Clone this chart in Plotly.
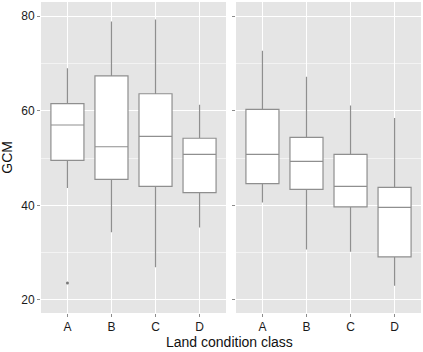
import plotly.graph_objects as go

categories = ["A", "B", "C", "D"]

# Left panel
left_low = [43.7, 34.3, 26.9, 35.3]
left_q1 = [49.5, 45.5, 44.0, 42.7]
left_med = [57.0, 52.4, 54.6, 50.8]
left_q3 = [61.5, 67.4, 63.6, 54.2]
left_high = [69.0, 78.9, 79.3, 61.3]
left_outlier_x = ["A"]
left_outlier_y = [23.6]

# Right panel
right_low = [40.6, 30.7, 30.2, 23.0]
right_q1 = [44.6, 43.4, 39.7, 29.1]
right_med = [50.8, 49.3, 44.0, 39.6]
right_q3 = [60.3, 54.4, 50.8, 43.8]
right_high = [72.7, 67.2, 61.1, 58.5]

y_ticks = [20, 40, 60, 80]

BOX_LINE = "#8f8f8f"
BG = "#e5e5e5"
FONT = "Liberation Sans, Arial, Helvetica, sans-serif"

fig = go.Figure()

def add_box(xaxis, yaxis, low, q1, med, q3, high):
    fig.add_trace(go.Box(
        x=categories, q1=q1, median=med, q3=q3,
        lowerfence=low, upperfence=high,
        boxpoints=False, width=0.75, whiskerwidth=0,
        fillcolor="white", line=dict(color=BOX_LINE, width=1.2),
        xaxis=xaxis, yaxis=yaxis, showlegend=False, hoverinfo="skip",
    ))

add_box("x", "y", left_low, left_q1, left_med, left_q3, left_high)
add_box("x2", "y2", right_low, right_q1, right_med, right_q3, right_high)

fig.add_trace(go.Scatter(
    x=left_outlier_x, y=left_outlier_y, mode="markers",
    marker=dict(color="#7a7a7a", size=3), xaxis="x", yaxis="y",
    showlegend=False, hoverinfo="skip",
))

yrange = [17.25, 83.0]
xcommon = dict(
    type="category", categoryorder="array", categoryarray=categories,
    range=[-0.6, 3.6], showgrid=True, gridcolor="white", gridwidth=1.1,
    zeroline=False, ticks="outside", ticklen=3, tickcolor="#8c8c8c",
    tickfont=dict(family=FONT, size=12, color="#1a1a1a"),
    showline=False, fixedrange=True,
)
ycommon = dict(
    range=yrange, tickvals=y_ticks, showgrid=True, gridcolor="white",
    gridwidth=1.1, zeroline=False, ticks="outside", ticklen=3,
    tickcolor="#8c8c8c",
    minor=dict(tickvals=[30, 50, 70], showgrid=True, gridcolor="#f3f3f3", gridwidth=0.6, ticks=""),
    tickfont=dict(family=FONT, size=12, color="#1a1a1a"),
    showline=False, fixedrange=True,
)

fig.update_layout(
    width=423, height=352,
    margin=dict(l=41, r=2, t=2, b=39),
    paper_bgcolor="white", plot_bgcolor=BG,
    xaxis=dict(domain=[0, 0.4868], anchor="y", **xcommon),
    xaxis2=dict(domain=[0.5132, 1], anchor="y2", **xcommon),
    yaxis=dict(anchor="x", **ycommon),
    yaxis2=dict(anchor="x2", showticklabels=False, **ycommon),
    annotations=[
        dict(text="Land condition class", xref="paper", yref="paper", x=0.497, y=-0.092,
             xanchor="center", yanchor="middle", showarrow=False,
             font=dict(family=FONT, size=14, color="#111")),
        dict(text="GCM", xref="paper", yref="paper", x=-0.09, y=0.502,
             xanchor="center", yanchor="middle", textangle=-90, showarrow=False,
             font=dict(family=FONT, size=14, color="#111")),
    ],
)

fig.write_html("out.html", config={"displayModeBar": False},
               post_script="document.body.style.margin='0';")
